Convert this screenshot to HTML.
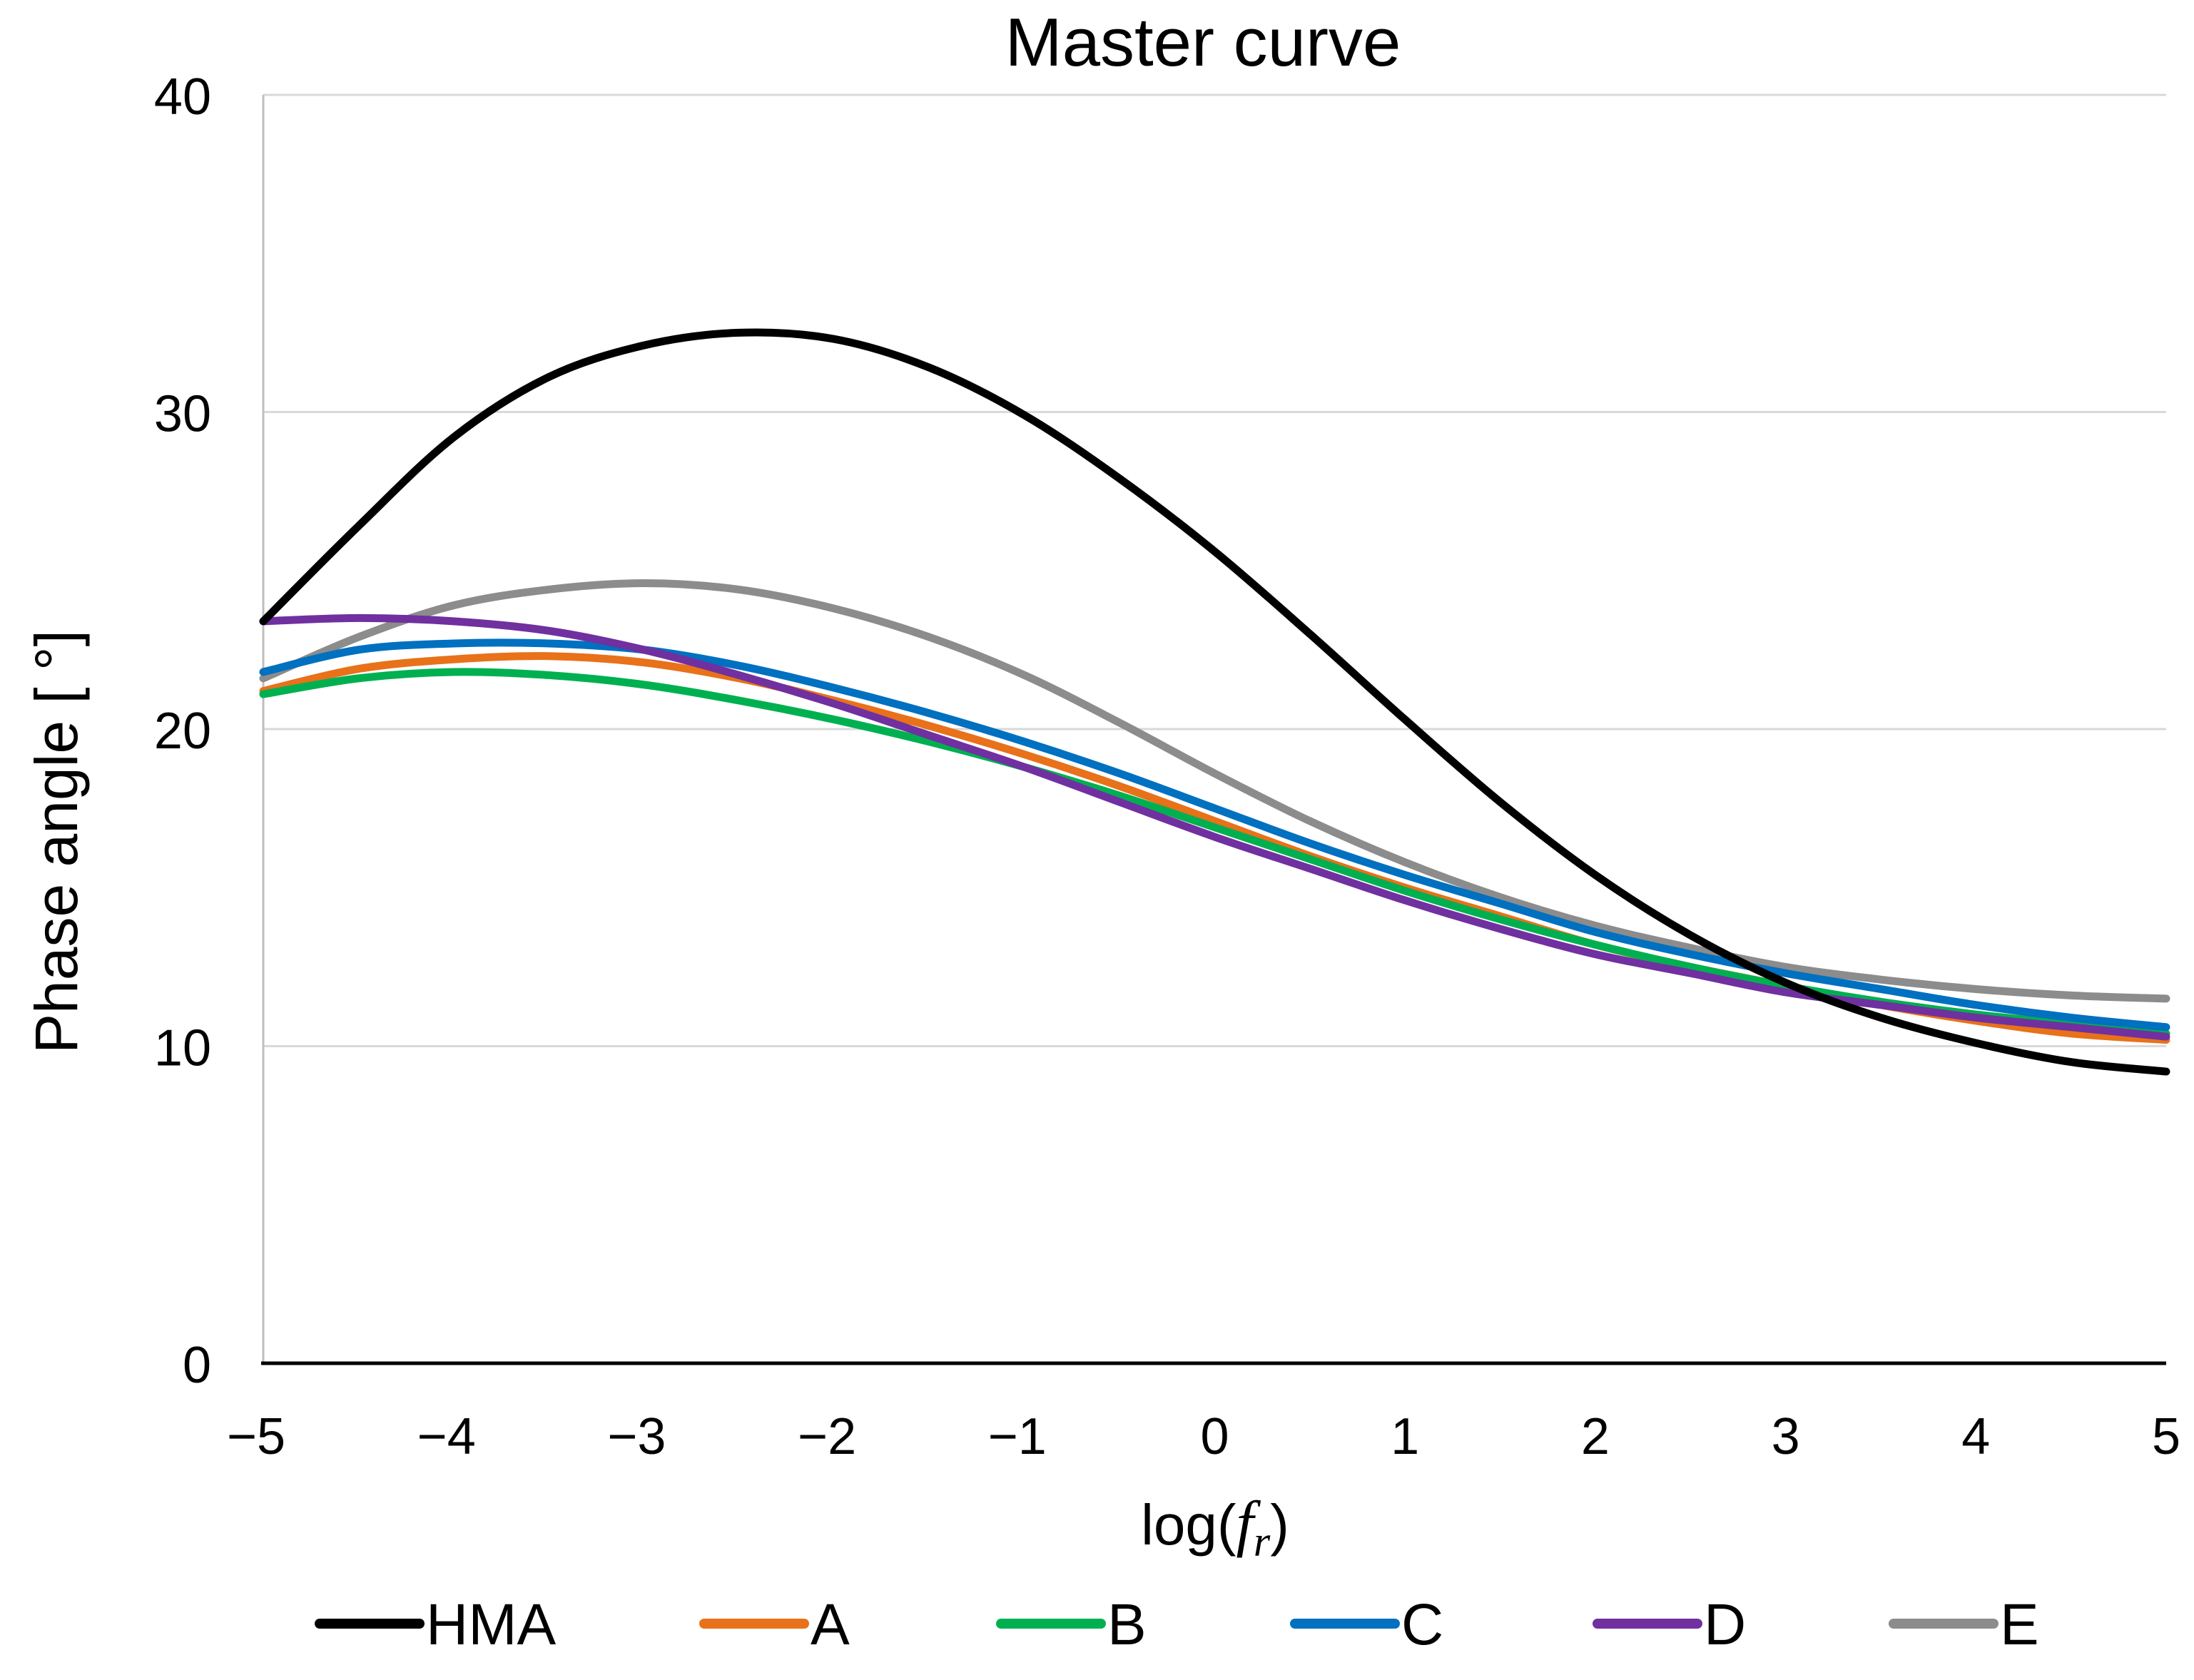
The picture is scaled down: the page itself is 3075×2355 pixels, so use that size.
<!DOCTYPE html>
<html><head><meta charset="utf-8"><style>
html,body{margin:0;padding:0;background:#fff;}
svg{display:block;font-family:"Liberation Sans",sans-serif;}
</style></head><body>
<svg id="chart" width="3075" height="2355" viewBox="0 0 3075 2355">
<text x="1686" y="92" font-size="96" text-anchor="middle" fill="#000">Master curve</text>
<g id="grid"></g>
<g id="yticks"></g>
<g id="xticks"></g>
<g id="series"></g>
<text transform="translate(108,1180) rotate(-90)" font-size="84" text-anchor="middle" fill="#000">Phase angle [ °]</text>
<text x="1703" y="2165" font-size="80" text-anchor="middle" fill="#000">log(<tspan font-family="Liberation Serif" font-style="italic" font-size="88">f</tspan><tspan font-family="Liberation Serif" font-style="italic" font-size="60" dy="16">r</tspan><tspan dy="-16">)</tspan></text>
<g id="legend"></g>
</svg>
<script>
const xs = [-5,-4.5,-4,-3.5,-3,-2.5,-2,-1.5,-1,-0.5,0,0.5,1,1.5,2,2.5,3,3.5,4,4.5,5];
const hma = [23.4,26.4,29.2,31.1,32.1,32.5,32.3,31.4,29.9,27.9,25.6,23.0,20.3,17.7,15.4,13.5,12.0,10.9,10.1,9.5,9.2];
const seriesA = [21.2,21.9,22.2,22.3,22.1,21.6,20.9,20.1,19.2,18.2,17.1,16.0,15.0,14.1,13.2,12.5,11.9,11.3,10.8,10.4,10.2];
const seriesB = [21.1,21.6,21.8,21.7,21.4,20.9,20.3,19.6,18.8,17.9,16.9,15.9,14.9,14.0,13.2,12.5,11.9,11.4,11.0,10.7,10.4];
const seriesC = [21.8,22.5,22.7,22.7,22.5,22.0,21.3,20.5,19.6,18.6,17.5,16.4,15.4,14.5,13.6,12.9,12.3,11.8,11.3,10.9,10.6];
const seriesD = [23.4,23.5,23.4,23.1,22.5,21.7,20.8,19.8,18.8,17.7,16.6,15.6,14.6,13.7,12.9,12.3,11.7,11.3,10.9,10.6,10.3];
const seriesE = [21.6,22.9,23.9,24.4,24.6,24.4,23.8,22.9,21.7,20.2,18.6,17.1,15.8,14.7,13.8,13.1,12.5,12.1,11.8,11.6,11.5];
const xTicks = [-5,-4,-3,-2,-1,0,1,2,3,4,5];
const yTicks = [0,10,20,30,40];
const seriesNames = ["HMA","A","B","C","D","E"];
const seriesColors = ["#000000","#E8711A","#00B050","#0070C0","#7030A0","#8C8C8C"];

const NS="http://www.w3.org/2000/svg";
const L=369,R=3036,T=133,B=1911;
const sx=v=>L+(v+5)/10*(R-L);
const sy=v=>B-v/40*(B-T);
function mk(tag,attrs,parent){const e=document.createElementNS(NS,tag);for(const k in attrs)e.setAttribute(k,attrs[k]);parent.appendChild(e);return e;}
const grid=document.getElementById('grid');
yTicks.forEach(t=>{
  if(t>0){const g=mk('line',{x1:L,x2:R,y1:sy(t),y2:sy(t),stroke:'#d9d9d9','stroke-width':3},grid);
  
  }
  const tx=mk('text',{x:296,y:sy(t)+27,'font-size':72,'text-anchor':'end',fill:'#000'},document.getElementById('yticks'));
  tx.textContent=t;
  
  
});
const ya=mk('line',{x1:L,x2:L,y1:T,y2:B,stroke:'#bfbfbf','stroke-width':3},grid);


const xa=mk('line',{x1:L-3,x2:R,y1:B,y2:B,stroke:'#000','stroke-width':5},grid);


xTicks.forEach(t=>{
  const tx=mk('text',{x:sx(t)-(t<0?10:0),y:2038,'font-size':72,'text-anchor':'middle',fill:'#000'},document.getElementById('xticks'));
  tx.textContent=(t<0?'\u2212'+(-t):String(t));
  
  
});
function pathFor(vals){
  const p=xs.map((x,i)=>[sx(x),sy(vals[i])]);
  let d='M'+p[0][0]+','+p[0][1];
  for(let i=0;i<p.length-1;i++){
    const p0=p[Math.max(0,i-1)],p1=p[i],p2=p[i+1],p3=p[Math.min(p.length-1,i+2)];
    const c1=[p1[0]+(p2[0]-p0[0])/6,p1[1]+(p2[1]-p0[1])/6];
    const c2=[p2[0]-(p3[0]-p1[0])/6,p2[1]-(p3[1]-p1[1])/6];
    d+=` C${c1[0]},${c1[1]} ${c2[0]},${c2[1]} ${p2[0]},${p2[1]}`;
  }
  return d;
}
const allSeries=[hma,seriesA,seriesB,seriesC,seriesD,seriesE];
const order=[5,1,2,3,4,0];
const sg=document.getElementById('series');
order.forEach(i=>{
  const p=mk('path',{d:pathFor(allSeries[i]),fill:'none',stroke:seriesColors[i],'stroke-width':11,'stroke-linecap':'round','stroke-linejoin':'round'},sg);
  
  
});
const legX=[441,980,1396,1808,2232,2647];
const lg=document.getElementById('legend');
seriesNames.forEach((n,i)=>{
  const g=mk('g',{},lg);
  
  
  mk('line',{x1:legX[i]+7,x2:legX[i]+147,y1:2276,y2:2276,stroke:seriesColors[i],'stroke-width':14,'stroke-linecap':'round'},g);
  const t=mk('text',{x:legX[i]+156,y:2305,'font-size':82,fill:'#000'},g);
  t.textContent=n;
});
</script>
</body></html>
